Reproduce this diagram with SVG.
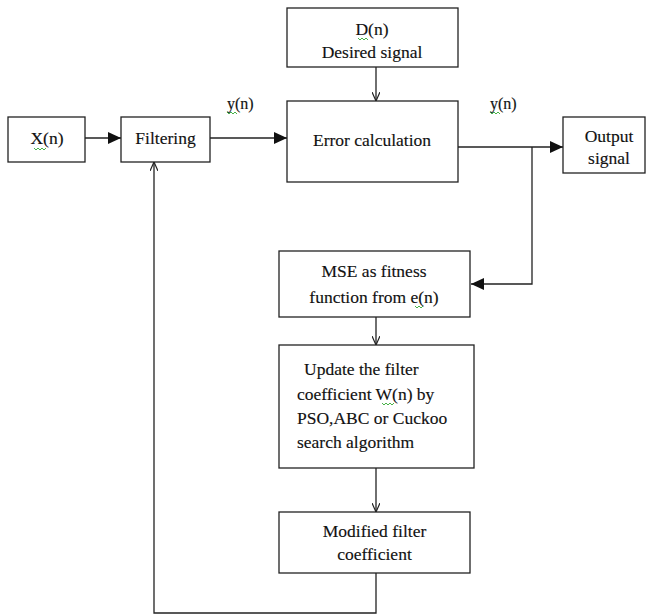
<svg xmlns="http://www.w3.org/2000/svg" width="648" height="615" viewBox="0 0 648 615">
<style>
.box{fill:#fff;stroke:#222;stroke-width:1.3}
.t{font-family:"Liberation Serif","Times New Roman",serif;font-size:17.5px;fill:#111;stroke:#111;stroke-width:0.15}
.m{text-anchor:middle}
.ln{fill:none;stroke:#222;stroke-width:1.3}
.sq{fill:none;stroke:#3a3;stroke-width:0.9}
</style>
<defs>
<marker id="fa" markerWidth="13" markerHeight="12" refX="13" refY="6" orient="auto" markerUnits="userSpaceOnUse">
<path d="M0,0 L13,6 L0,12 Z" fill="#111"/>
</marker>
<marker id="oa" markerWidth="10" markerHeight="8" refX="9" refY="4" orient="auto" markerUnits="userSpaceOnUse">
<path d="M0,0 L9,4 L0,8" fill="none" stroke="#222" stroke-width="1.2"/>
</marker>
</defs>
<rect width="648" height="615" fill="#fff"/>
<g id="connectors">
<line class="ln" x1="85" y1="138" x2="121" y2="138" marker-end="url(#fa)"/>
<line class="ln" x1="210" y1="138" x2="287" y2="138" marker-end="url(#fa)"/>
<line class="ln" x1="376" y1="67" x2="376" y2="101" marker-end="url(#oa)"/>
<line class="ln" x1="458" y1="147" x2="563" y2="147" marker-end="url(#fa)"/>
<polyline class="ln" points="532,147 532,284 471,284" marker-end="url(#fa)"/>
<line class="ln" x1="376" y1="317" x2="376" y2="345" marker-end="url(#oa)"/>
<line class="ln" x1="376" y1="468" x2="376" y2="512" marker-end="url(#oa)"/>
<polyline class="ln" points="376,573 376,613 154,613 154,162" marker-end="url(#oa)"/>
<text class="t" x="227" y="109" style="font-size:16px">y(n)</text>
<path class="sq" d="M227,112 l2,2 l2,-2 l2,2 l2,-2 l2,2"/>
<text class="t" x="490" y="109" style="font-size:16px">y(n)</text>
<path class="sq" d="M490,112 l2,2 l2,-2 l2,2 l2,-2 l2,2"/>
</g>
<g id="xn">
<rect class="box" x="8" y="117" width="77" height="45"/>
<text class="t m" x="47" y="144">X(n)</text>
<path class="sq" d="M34,148 l2,2 l2,-2 l2,2 l2,-2 l2,2 l2,-2"/>
</g>
<g id="filtering">
<rect class="box" x="121" y="117" width="89" height="45"/>
<text class="t m" x="165.5" y="144">Filtering</text>
</g>
<g id="desired">
<rect class="box" x="287" y="8" width="171" height="59"/>
<text class="t m" x="372" y="35">D(n)</text>
<path class="sq" d="M358,38 l2,2 l2,-2 l2,2 l2,-2 l2,2"/>
<text class="t m" x="372" y="58">Desired signal</text>
</g>
<g id="error">
<rect class="box" x="287" y="101" width="171" height="81"/>
<text class="t m" x="372" y="146">Error calculation</text>
</g>
<g id="output">
<rect class="box" x="563" y="117" width="82" height="56"/>
<text class="t m" x="609" y="142">Output</text>
<text class="t m" x="609" y="164">signal</text>
</g>
<g id="mse">
<rect class="box" x="279" y="251" width="191" height="66"/>
<text class="t m" x="374" y="277">MSE as fitness</text>
<text class="t m" x="374" y="303">function from e(n)</text>
<path class="sq" d="M415,306 l2,2 l2,-2 l2,2 l2,-2"/>
</g>
<g id="update">
<rect class="box" x="279" y="345" width="195" height="123"/>
<text class="t" x="304" y="375">Update the filter</text>
<text class="t" x="297" y="400">coefficient W(n) by</text>
<path class="sq" d="M382,403 l2,2 l2,-2 l2,2 l2,-2 l2,2 l2,-2"/>
<text class="t" x="297" y="424">PSO,ABC or Cuckoo</text>
<text class="t" x="297" y="448">search algorithm</text>
</g>
<g id="modified">
<rect class="box" x="279" y="512" width="191" height="61"/>
<text class="t m" x="374.5" y="537">Modified filter</text>
<text class="t m" x="374.5" y="560">coefficient</text>
</g>
</svg>
